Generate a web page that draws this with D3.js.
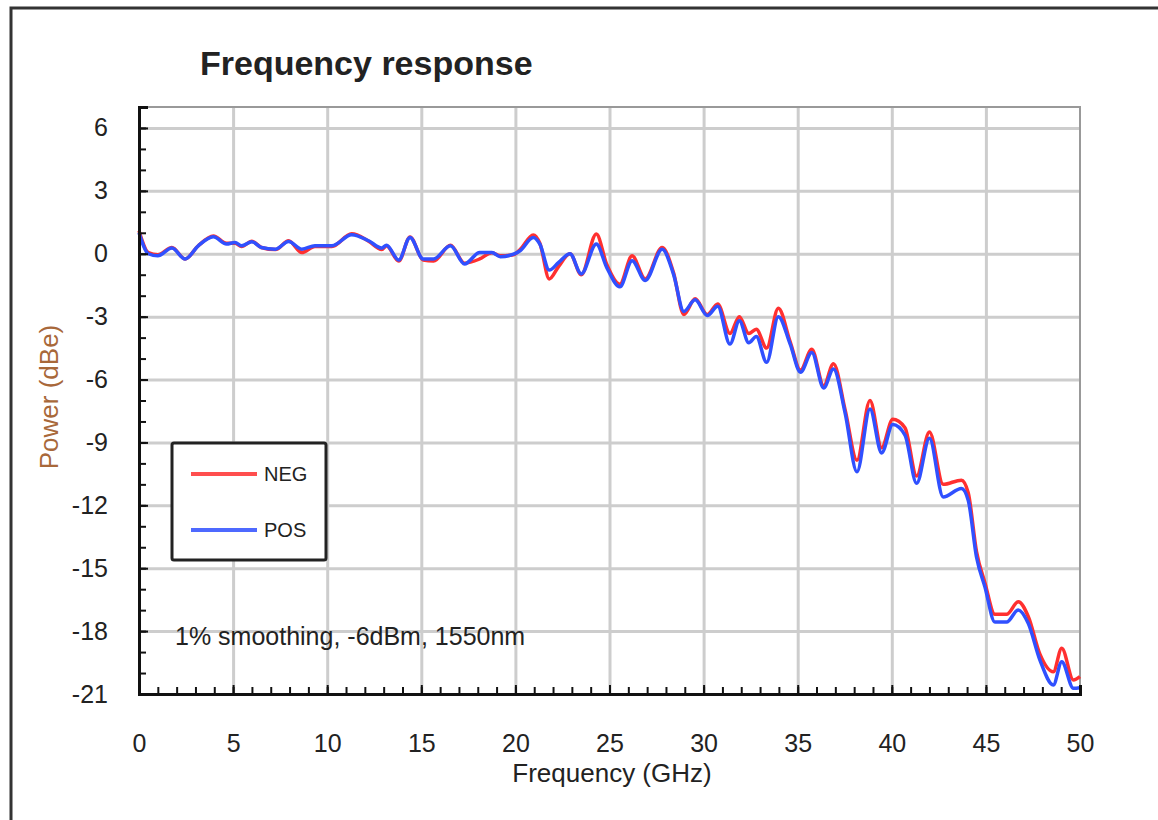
<!DOCTYPE html>
<html>
<head>
<meta charset="utf-8">
<script src="https://cdn.jsdelivr.net/npm/d3@7"></script>
<style>
  body { margin: 0; background: #fff; }
  text { font-family: "Liberation Sans", Arial, sans-serif; }
</style>
</head>
<body>
<div id="chart"></div>
<script>
// frequency grid (GHz)
const freq = [0, 0.5, 1, 1.75, 2.45, 3.15, 3.95, 4.65, 5.1, 5.45, 6, 6.5, 7.25, 7.95, 8.65, 9.35,
  10.25, 11.3, 12.2, 12.9, 13.15, 13.8, 14.4, 15.1, 15.65, 16.55, 17.3, 18.1, 18.75, 19.2, 19.9,
  20.25, 20.95, 21.3, 21.8, 22.3, 22.9, 23.5, 24.3, 24.85, 25.55, 26.2, 26.9, 27.8, 28.4, 28.95,
  29.55, 30.2, 30.75, 31.4, 31.9, 32.4, 32.8, 33.35, 33.97, 34.6, 35.15, 35.75, 36.38, 36.9,
  37.52, 38.15, 38.84, 39.46, 40.05, 40.7, 41.32, 42, 42.73, 43.7, 44.06, 44.5, 44.95, 45.48,
  46.1, 46.72, 47.25, 47.87, 48.58, 49.03, 49.65, 50];

const neg = [1.1, 0.05, -0.05, 0.3, -0.25, 0.38, 0.85, 0.5, 0.5, 0.35, 0.6, 0.3, 0.2, 0.62, 0.06, 0.35,
  0.35, 0.95, 0.6, 0.2, 0.38, -0.35, 0.8, -0.3, -0.35, 0.4, -0.45, -0.25, 0.05, -0.1, -0.05,
  0.2, 0.9, 0.5, -1.2, -0.6, 0, -1.0, 0.94, -0.5, -1.45, -0.1, -1.2, 0.3, -0.9, -2.9,
  -2.15, -2.9, -2.4, -3.8, -3.0, -3.8, -3.6, -4.5, -2.6, -4.2, -5.55, -4.55, -6.3, -5.25,
  -7.45, -9.85, -7.0, -9.25, -7.9, -8.3, -10.6, -8.5, -11.0, -10.8, -11.4, -14.2, -15.7, -17.2,
  -17.2, -16.6, -17.3, -19.1, -19.94, -18.82, -20.33, -20.17];

const pos = [1.0, 0, -0.1, 0.27, -0.25, 0.38, 0.81, 0.46, 0.54, 0.38, 0.57, 0.3, 0.22, 0.59, 0.22, 0.38,
  0.38, 0.91, 0.62, 0.27, 0.41, -0.3, 0.78, -0.25, -0.25, 0.38, -0.49, 0.06, 0.06, -0.14, -0.02,
  0.14, 0.78, 0.46, -0.78, -0.41, 0, -0.96, 0.46, -0.65, -1.58, -0.33, -1.27, 0.21, -0.97, -2.75,
  -2.2, -2.95, -2.5, -4.31, -3.2, -4.25, -3.95, -5.18, -3.0, -4.31, -5.65, -4.71, -6.4, -5.5,
  -7.6, -10.4, -7.4, -9.5, -8.15, -8.65, -10.95, -8.8, -11.6, -11.2, -11.76, -14.46, -15.9, -17.57,
  -17.57, -16.99, -17.63, -19.38, -20.57, -19.46, -20.73, -20.7];

const seriesNames = ['NEG', 'POS'];
const seriesColors = ['#ff3030', '#3050ff'];
const xTicks = [0, 5, 10, 15, 20, 25, 30, 35, 40, 45, 50];
const yTicks = [-21, -18, -15, -12, -9, -6, -3, 0, 3, 6];

const width = 1158, height = 820;
const plot = { left: 139, right: 1080, top: 107, bottom: 694 };

const svg = d3.select('#chart').append('svg')
  .attr('width', width)
  .attr('height', height);

// outer frame
svg.append('path')
  .attr('d', 'M11,820 L11,8 L1158,8')
  .attr('fill', 'none')
  .attr('stroke', '#333')
  .attr('stroke-width', 3);

const x = d3.scaleLinear().domain([0, 50]).range([plot.left, plot.right]);
const y = d3.scaleLinear().domain([-21, 7]).range([plot.bottom, plot.top]);

// grid
svg.append('g')
  .attr('transform', 'translate(0,' + plot.bottom + ')')
  .call(d3.axisBottom(x).tickValues(xTicks.slice(1, -1)).tickSize(-(plot.bottom - plot.top)).tickFormat(''))
  .call(g => g.select('.domain').remove())
  .call(g => g.selectAll('line').attr('stroke', '#cdcdcd').attr('stroke-width', 3));

svg.append('g')
  .attr('transform', 'translate(' + plot.left + ',0)')
  .call(d3.axisLeft(y).tickValues(yTicks.slice(1)).tickSize(-(plot.right - plot.left)).tickFormat(''))
  .call(g => g.select('.domain').remove())
  .call(g => g.selectAll('line').attr('stroke', '#cdcdcd').attr('stroke-width', 3));

// top / right border
svg.append('path')
  .attr('d', 'M' + plot.left + ',' + plot.top + ' L' + plot.right + ',' + plot.top + ' L' + plot.right + ',' + plot.bottom)
  .attr('fill', 'none')
  .attr('stroke', '#999')
  .attr('stroke-width', 2);

// series
const line = d3.line()
  .x((d, i) => x(freq[i]))
  .y(d => y(d))
  .curve(d3.curveMonotoneX);

[neg, pos].forEach((vals, k) => {
  svg.append('path')
    .datum(vals)
    .attr('fill', 'none')
    .attr('stroke', seriesColors[k])
    .attr('stroke-width', 3.5)
    .attr('stroke-linejoin', 'round')
    .attr('d', line);
});

// minor ticks
svg.append('g')
  .attr('transform', 'translate(' + plot.left + ',0)')
  .call(d3.axisLeft(y).tickValues(d3.range(-21, 8, 1)).tickSize(-7).tickFormat(''))
  .call(g => g.select('.domain').remove())
  .call(g => g.selectAll('line').attr('stroke', '#111').attr('stroke-width', 2));

svg.append('g')
  .attr('transform', 'translate(0,' + plot.bottom + ')')
  .call(d3.axisBottom(x).tickValues(d3.range(0, 51, 1)).tickSize(-7).tickFormat(''))
  .call(g => g.select('.domain').remove())
  .call(g => g.selectAll('line').attr('stroke', '#111').attr('stroke-width', 2));

// main axes (plain hyphen for negatives, as in the original)
const plain = d => String(d);

svg.append('g')
  .attr('transform', 'translate(' + plot.left + ',0)')
  .call(d3.axisLeft(y).tickValues(yTicks).tickSize(-9).tickPadding(31).tickFormat(plain))
  .call(g => g.select('.domain').attr('stroke', '#111').attr('stroke-width', 3))
  .call(g => g.selectAll('line').attr('stroke', '#111').attr('stroke-width', 2))
  .call(g => g.selectAll('text').attr('font-size', 25).attr('fill', '#222')
    .attr('font-family', '"Liberation Sans", Arial, sans-serif'));

svg.append('g')
  .attr('transform', 'translate(0,' + plot.bottom + ')')
  .call(d3.axisBottom(x).tickValues(xTicks).tickSize(-9).tickPadding(40).tickFormat(plain))
  .call(g => g.select('.domain').attr('stroke', '#111').attr('stroke-width', 3))
  .call(g => g.selectAll('line').attr('stroke', '#111').attr('stroke-width', 2))
  .call(g => g.selectAll('text').attr('font-size', 25).attr('fill', '#222')
    .attr('font-family', '"Liberation Sans", Arial, sans-serif'));

// titles
svg.append('text')
  .attr('x', 200).attr('y', 75)
  .attr('font-size', 34).attr('font-weight', 'bold').attr('fill', '#222')
  .text('Frequency response');

svg.append('text')
  .attr('x', 612).attr('y', 782)
  .attr('text-anchor', 'middle')
  .attr('font-size', 26).attr('fill', '#222')
  .text('Frequency (GHz)');

svg.append('text')
  .attr('transform', 'translate(58,397) rotate(-90)')
  .attr('text-anchor', 'middle')
  .attr('font-size', 26).attr('fill', '#a8683a')
  .text('Power (dBe)');

svg.append('text')
  .attr('x', 175).attr('y', 645)
  .attr('font-size', 25).attr('fill', '#222')
  .text('1% smoothing, -6dBm, 1550nm');

// legend
const legend = svg.append('g').attr('transform', 'translate(172,443)');
legend.append('rect')
  .attr('width', 154).attr('height', 117).attr('rx', 2)
  .attr('fill', '#fff').attr('stroke', '#222').attr('stroke-width', 3);

seriesNames.forEach((name, k) => {
  const row = legend.append('g').attr('transform', 'translate(0,' + (31 + k * 56) + ')');
  row.append('line')
    .attr('x1', 19).attr('x2', 85)
    .attr('stroke', seriesColors[k]).attr('stroke-width', 4).attr('opacity', 0.85);
  row.append('text')
    .attr('x', 92).attr('dy', '0.36em')
    .attr('font-size', 20).attr('fill', '#222')
    .text(name);
});
</script>
</body>
</html>
